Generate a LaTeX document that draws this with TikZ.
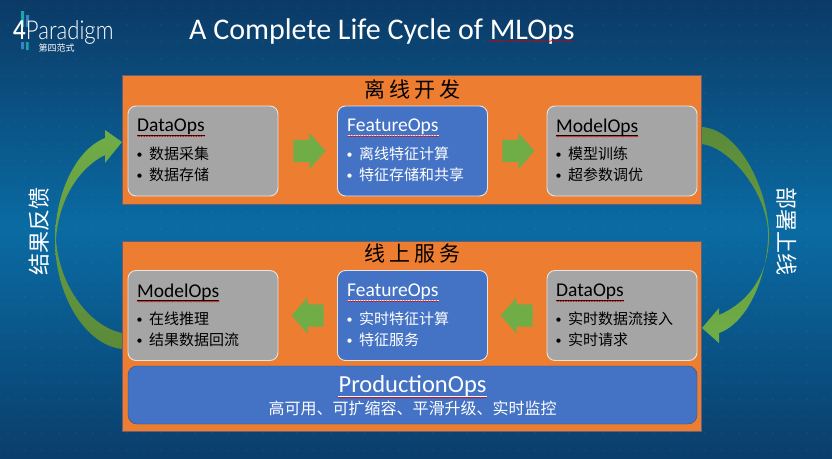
\documentclass[tikz,border=0pt]{standalone}
\usepackage{fontspec}
\setmainfont{Carlito}
\newfontfamily\cjk{Noto Sans CJK SC}
\newfontfamily\logofont{Lato Light}
\usetikzlibrary{calc,decorations.pathmorphing,shapes.arrows}
\definecolor{SlideTop}{HTML}{0B3A66}
\definecolor{SlideMid}{HTML}{0A6BA3}
\definecolor{SlideEnd}{HTML}{0A3E6C}
\definecolor{PhaseOrange}{HTML}{ED7D31}
\definecolor{OpsGray}{HTML}{A5A5A5}
\definecolor{OpsBlue}{HTML}{4472C4}
\definecolor{ProdEdge}{HTML}{2F528F}
\definecolor{ArrowGreen}{HTML}{70AD47}
\definecolor{ArrowDark}{HTML}{5B8A39}
\definecolor{LogoTeal}{HTML}{19A7A8}
\definecolor{LogoBlue}{HTML}{3F7FC4}
\tikzset{
  phaseBox/.style={rectangle,draw=ProdEdge!70!PhaseOrange,semithick,fill=PhaseOrange,
    minimum width=579pt,inner sep=0pt,outer sep=0pt},
  opsBase/.style={rectangle,rounded corners=8pt,draw=white!90!black,line width=.9pt,
    minimum width=150pt,minimum height=90pt,inner sep=0pt},
  opsGrayBox/.style={opsBase,fill=OpsGray},
  opsBlueBox/.style={opsBase,fill=OpsBlue},
  prodBox/.style={rectangle,rounded corners=9pt,draw=ProdEdge,fill=OpsBlue,
    minimum width=569pt,minimum height=58pt,inner sep=0pt},
  phaseTitle/.style={font=\cjk\fontsize{21}{22}\selectfont,text=black,inner sep=0pt},
  opsHead/.style={anchor=west,font=\fontsize{19.5}{22}\selectfont,inner sep=0pt},
  opsItems/.style={anchor=north west,align=left,inner sep=0pt,
    font=\cjk\fontsize{15}{21}\selectfont},
  blockArrow/.style={single arrow,draw=none,fill=ArrowGreen,minimum height=32pt,
    single arrow head extend=7pt,single arrow tip angle=97,single arrow head indent=0pt,
    inner sep=0pt,outer sep=0pt},
  sideLabel/.style={font=\cjk\fontsize{22}{24}\selectfont,text=white,inner sep=0pt},
  spellWave/.style={draw=red!85!black,line width=.45pt,decorate,
    decoration={snake,segment length=2.6pt,amplitude=.55pt}},
  spellRule/.style={line width=.5pt}
}
\newcommand{\opsitem}[1]{\makebox[11pt][l]{\hspace{-1.5pt}\fontsize{12}{21}\selectfont\normalfont\raisebox{1pt}{\textbullet}}#1}
\newcommand{\arrowfill}{\rule{0pt}{22pt}}
\begin{document}
\begin{tikzpicture}[x=1pt,y=-1pt]
  \useasboundingbox (0,0) rectangle (832,458);
  \shade[shading angle=8,top color=SlideTop,bottom color=SlideEnd,middle color=SlideMid] (0,0) rectangle (832,458);
  \foreach \i in {0,...,48}{\foreach \j in {0,...,26}{
    \fill[white,opacity=.14] ({8+17*\i},{8+17*\j}) circle (.55pt);}}
  % feedback arrows
  \shade[top color=ArrowGreen,bottom color=ArrowDark] (122,333) .. controls (92,327) and (60,290) .. (56,240)
    .. controls (58,205) and (75,170) .. (105,155) -- (105,163) -- (122,142) -- (105,130) -- (105,138)
    .. controls (75,150) and (55,195) .. (55,240) .. controls (55,295) and (85,345) .. (122,349) -- cycle;
  \shade[top color=ArrowDark,bottom color=ArrowGreen] (701,127) .. controls (735,128) and (766,180) .. (769,232)
    .. controls (770,262) and (758,298) .. (719,315) -- (719,308) -- (702,328) -- (719,343) -- (719,333)
    .. controls (750,322) and (769,270) .. (768,232) .. controls (766,190) and (728,146) .. (701,144) -- cycle;
  % orange panels
  \node[phaseBox,minimum height=129pt] (offline) at (411.5,139.5) {};
  \node[phaseBox,minimum height=190pt] (online) at (411.5,336) {};
  \node[phaseTitle] (offlineT) at (412.5,89) {离\hspace{4pt}线\hspace{4pt}开\hspace{4pt}发};
  \node[phaseTitle] (onlineT) at (412.5,254) {线\hspace{4pt}上\hspace{4pt}服\hspace{4pt}务};
  % top row
  \node[opsGrayBox] (dataA) at (203,151) {};
  \node[opsBlueBox] (featA) at (412.5,151) {};
  \node[opsGrayBox] (modelA) at (622,151) {};
  \node[blockArrow] (stepA) at (304.5,151) {\arrowfill};
  \node[blockArrow] (stepB) at (513.5,151) {\arrowfill};
  \node[opsHead] (dataAh) at (137,127) {DataOps};
  \node[opsHead,text=white] (featAh) at (347,127) {FeatureOps};
  \node[opsHead] (modelAh) at (556,127) {ModelOps};
  \node[opsItems] (dataAi) at (138,147) {\opsitem{数据采集}\\\opsitem{数据存储}};
  \node[opsItems,text=white] (featAi) at (348,147) {\opsitem{离线特征计算}\\\opsitem{特征存储和共享}};
  \node[opsItems] (modelAi) at (557,147) {\opsitem{模型训练}\\\opsitem{超参数调优}};
  % bottom row
  \node[opsGrayBox] (modelB) at (203,315.5) {};
  \node[opsBlueBox] (featB) at (412.5,315.5) {};
  \node[opsGrayBox] (dataB) at (622,315.5) {};
  \node[blockArrow,shape border rotate=180] (stepC) at (312.5,315.5) {\arrowfill};
  \node[blockArrow,shape border rotate=180] (stepD) at (521.5,315.5) {\arrowfill};
  \node[opsHead] (modelBh) at (137,292) {ModelOps};
  \node[opsHead,text=white] (featBh) at (347,292) {FeatureOps};
  \node[opsHead] (dataBh) at (556,292) {DataOps};
  \node[opsItems] (modelBi) at (138,312) {\opsitem{在线推理}\\\opsitem{结果数据回流}};
  \node[opsItems,text=white] (featBi) at (348,312) {\opsitem{实时特征计算}\\\opsitem{特征服务}};
  \node[opsItems] (dataBi) at (557,312) {\opsitem{实时数据流接入}\\\opsitem{实时请求}};
  \node[prodBox] (prod) at (412.5,395) {};
  \node[font=\fontsize{24.5}{26}\selectfont,text=white,inner sep=0pt] (prodh) at (412.5,386) {ProductionOps};
  \node[font=\cjk\fontsize{16}{18}\selectfont,text=white,inner sep=0pt] (prodi) at (412.5,408) {高可用、可扩缩容、平滑升级、实时监控};
  % side labels
  \node[sideLabel,rotate=90] (feedback) at (39,231) {结果反馈};
  \node[sideLabel,rotate=270] (deploy) at (787,231) {部署上线};
  % title and logo
  \node[font=\fontsize{30}{32}\selectfont,text=white,inner sep=0pt,anchor=base west] (title) at (189,39.5)
    {A Complete Life Cycle of MLOps};
  \fill[LogoTeal] (21,11) rectangle (24,27) (26,42) rectangle (28.5,50);
  \fill[LogoBlue] (26,15) rectangle (29,27) (21,42) rectangle (24,49);
  \node[font=\logofont\fontsize{26}{28}\selectfont,text=white,inner sep=0pt,anchor=west,xscale=.85] (logo) at (13,32) {\textbf{4}Paradigm};
  \node[font=\cjk\fontsize{9}{10}\selectfont,text=white,inner sep=0pt,anchor=west] (logoT) at (38.5,48.5) {第四范式};
  % spell-check marks
  \foreach \h in {dataAh,modelAh,modelBh,dataBh}{
    \draw[spellRule,black] (\h.south west) -- (\h.south east);
    \draw[spellWave] ($(\h.south west)+(0,1)$) -- ($(\h.south east)+(0,1)$);}
  \foreach \h in {featAh,featBh,prodh}{
    \draw[spellRule,white] (\h.south west) -- (\h.south east);
    \draw[spellWave] ($(\h.south west)+(0,1)$) -- ($(\h.south east)+(0,1)$);}
  \coordinate (mlopsL) at (488,41);
  \coordinate (mlopsR) at (574,41);
  \draw[spellWave] (mlopsL) -- (mlopsR);
\end{tikzpicture}
\end{document}
